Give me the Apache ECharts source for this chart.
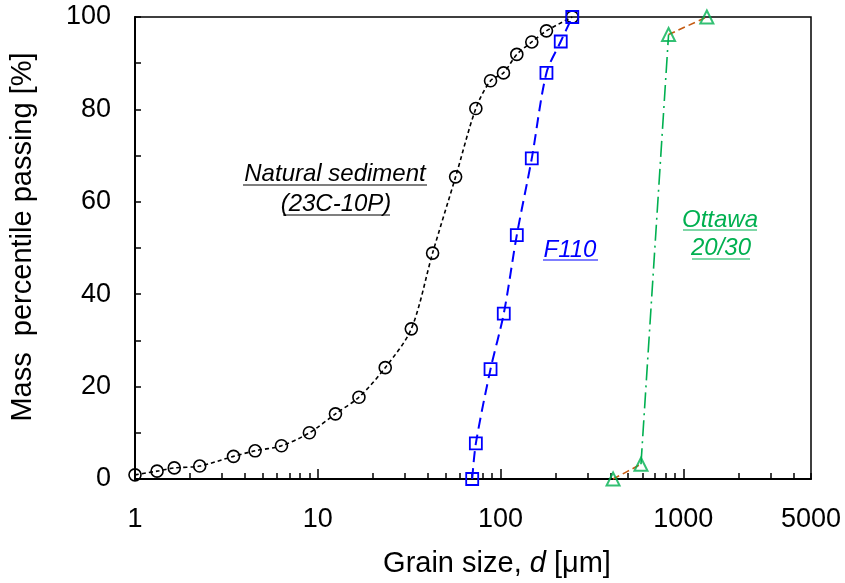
<!DOCTYPE html>
<html>
<head>
<meta charset="utf-8">
<script src="https://cdn.jsdelivr.net/npm/echarts@6/dist/echarts.min.js"></script>
<style>
  html, body { margin: 0; padding: 0; background: #fff; }
  #chart { width: 845px; height: 583px; }
</style>
</head>
<body>
<div id="chart"></div>
<script>
// grain size [um] and mass percent passing
const sedSize = [1.0, 1.32, 1.64, 2.26, 3.46, 4.54, 6.33, 9.0, 12.5, 16.8, 23.4, 32.5, 42.5, 56.8, 73.3, 88.2, 103.8, 122.8, 148.3, 178.4, 247];
const sedPass = [0.9, 1.7, 2.4, 2.8, 4.9, 6.1, 7.2, 10.0, 14.1, 17.7, 24.1, 32.5, 48.9, 65.4, 80.2, 86.2, 87.9, 91.9, 94.6, 97.0, 100];

const f110Size = [70, 73.3, 88.2, 104.2, 122.8, 148.3, 178.4, 213.6, 247];
const f110Pass = [0, 7.7, 23.8, 35.8, 52.8, 69.4, 87.9, 94.7, 100];

const ottSize = [413, 587, 831, 1346];
const ottPass = [0, 3.2, 96.2, 100];

const xLabels = [1, 10, 100, 1000, 5000];
const xMajorTicks = [1, 10, 100, 1000];
const yTicks = [0, 20, 40, 60, 80, 100];

const FONT = "'Liberation Sans', Arial, sans-serif";
const GREEN = '#00B050';
const ORANGE = '#C55A11';

const pairs = (xs, ys) => xs.map((x, i) => [x, ys[i]]);

// minor ticks 1..9 per decade, up to 5000
const xMinorTicks = [];
[1, 10, 100, 1000].forEach(dec => {
  for (let m = 1; m <= 9; m++) {
    if (dec * m <= 5000) xMinorTicks.push(dec * m);
  }
});

const ott = pairs(ottSize, ottPass);

const chart = echarts.init(document.getElementById('chart'));

const option = {
  animation: false,
  backgroundColor: '#fff',
  textStyle: { fontFamily: FONT },
  grid: {
    left: 135, right: 34, top: 17, bottom: 104,
    show: true, borderColor: '#000', borderWidth: 1.5
  },
  xAxis: [{
    type: 'log', logBase: 10, min: 1, max: 5000,
    name: 'Grain size, {i|d} [μm]',
    nameLocation: 'middle', nameGap: 70,
    nameTextStyle: {
      color: '#000', fontSize: 29, fontFamily: FONT, padding: [0, 0, 0, 48],
      rich: { i: { fontStyle: 'italic', fontSize: 29, fontFamily: FONT, color: '#000' } }
    },
    axisLine: { show: true, onZero: false, lineStyle: { color: '#000', width: 2 } },
    axisTick: { show: true, inside: true, length: 6, customValues: xMinorTicks, lineStyle: { color: '#000', width: 1.5 } },
    minorTick: { show: false },
    splitLine: { show: false },
    axisLabel: {
      customValues: xLabels, color: '#000', fontSize: 27, fontFamily: FONT, margin: 27,
      formatter: v => String(Math.round(v))
    }
  }, {
    type: 'log', logBase: 10, min: 1, max: 5000, position: 'bottom',
    axisLine: { show: false },
    axisTick: { show: true, inside: true, length: 10, customValues: xMajorTicks, lineStyle: { color: '#000', width: 1.5 } },
    axisLabel: { show: false },
    splitLine: { show: false }
  }],
  yAxis: {
    type: 'value', min: 0, max: 100, interval: 20,
    name: 'Mass  percentile passing [%]',
    nameLocation: 'middle', nameGap: 98,
    nameTextStyle: { color: '#000', fontSize: 29, fontFamily: FONT, padding: [0, 0, 0, 22] },
    axisLine: { show: true, onZero: false, lineStyle: { color: '#000', width: 2 } },
    axisTick: { show: true, inside: true, length: 6, lineStyle: { color: '#000', width: 1.5 } },
    minorTick: { show: true, splitNumber: 2, length: 6, lineStyle: { color: '#000', width: 1.5 } },
    splitLine: { show: false },
    axisLabel: { customValues: yTicks, color: '#000', fontSize: 27, fontFamily: FONT, margin: 24 }
  },
  series: [
    {
      name: 'Natural sediment', type: 'line', data: pairs(sedSize, sedPass),
      smooth: 0.3, clip: false,
      symbol: 'circle', symbolSize: 12,
      itemStyle: { color: 'rgba(0,0,0,0)', borderColor: '#000', borderWidth: 1.6 },
      lineStyle: { color: '#000', width: 1.6, type: [4, 3] },
      z: 3
    },
    {
      name: 'F110', type: 'line', data: pairs(f110Size, f110Pass),
      smooth: 0.3, clip: false,
      symbol: 'rect', symbolSize: 12,
      itemStyle: { color: 'rgba(0,0,0,0)', borderColor: '#0000FF', borderWidth: 1.8 },
      lineStyle: { color: '#0000FF', width: 2, type: [11, 6] },
      z: 3
    },
    {
      name: 'Ottawa ends', type: 'line', data: [ott[0], ott[1], null, ott[2], ott[3]],
      smooth: 0.3, clip: false, connectNulls: false, showSymbol: false,
      lineStyle: { color: ORANGE, width: 1.6, type: [7, 4] },
      z: 2
    },
    {
      name: 'Ottawa 20/30', type: 'line', data: ott.slice(1, 3),
      clip: false, showSymbol: false,
      lineStyle: { color: GREEN, width: 1.6, type: [16, 5, 2, 5] },
      z: 2
    },
    {
      name: 'Ottawa marks', type: 'scatter', data: ott,
      clip: false, symbol: 'triangle', symbolSize: 13,
      itemStyle: { color: 'rgba(0,0,0,0)', borderColor: GREEN, borderWidth: 2 },
      z: 4
    }
  ],
  graphic: [
    { type: 'text', x: 335, y: 174, style: { text: 'Natural sediment', font: 'italic 24px ' + FONT, fill: '#000', align: 'center', verticalAlign: 'middle' } },
    { type: 'line', shape: { x1: 243, y1: 185, x2: 427, y2: 185 }, style: { stroke: '#000', lineWidth: 1.2 } },
    { type: 'text', x: 336, y: 204, style: { text: '(23C-10P)', font: 'italic 24px ' + FONT, fill: '#000', align: 'center', verticalAlign: 'middle' } },
    { type: 'line', shape: { x1: 283, y1: 215, x2: 390, y2: 215 }, style: { stroke: '#000', lineWidth: 1.2 } },
    { type: 'text', x: 570, y: 250, style: { text: 'F110', font: 'italic 24px ' + FONT, fill: '#0000FF', align: 'center', verticalAlign: 'middle' } },
    { type: 'line', shape: { x1: 543, y1: 260, x2: 598, y2: 260 }, style: { stroke: '#0000FF', lineWidth: 1.2 } },
    { type: 'text', x: 720, y: 220, style: { text: 'Ottawa', font: 'italic 24px ' + FONT, fill: GREEN, align: 'center', verticalAlign: 'middle' } },
    { type: 'line', shape: { x1: 683, y1: 230, x2: 757, y2: 230 }, style: { stroke: GREEN, lineWidth: 1.2 } },
    { type: 'text', x: 721, y: 248, style: { text: '20/30', font: 'italic 24px ' + FONT, fill: GREEN, align: 'center', verticalAlign: 'middle' } },
    { type: 'line', shape: { x1: 692, y1: 259, x2: 750, y2: 259 }, style: { stroke: GREEN, lineWidth: 1.2 } }
  ]
};

chart.setOption(option);
</script>
</body>
</html>
